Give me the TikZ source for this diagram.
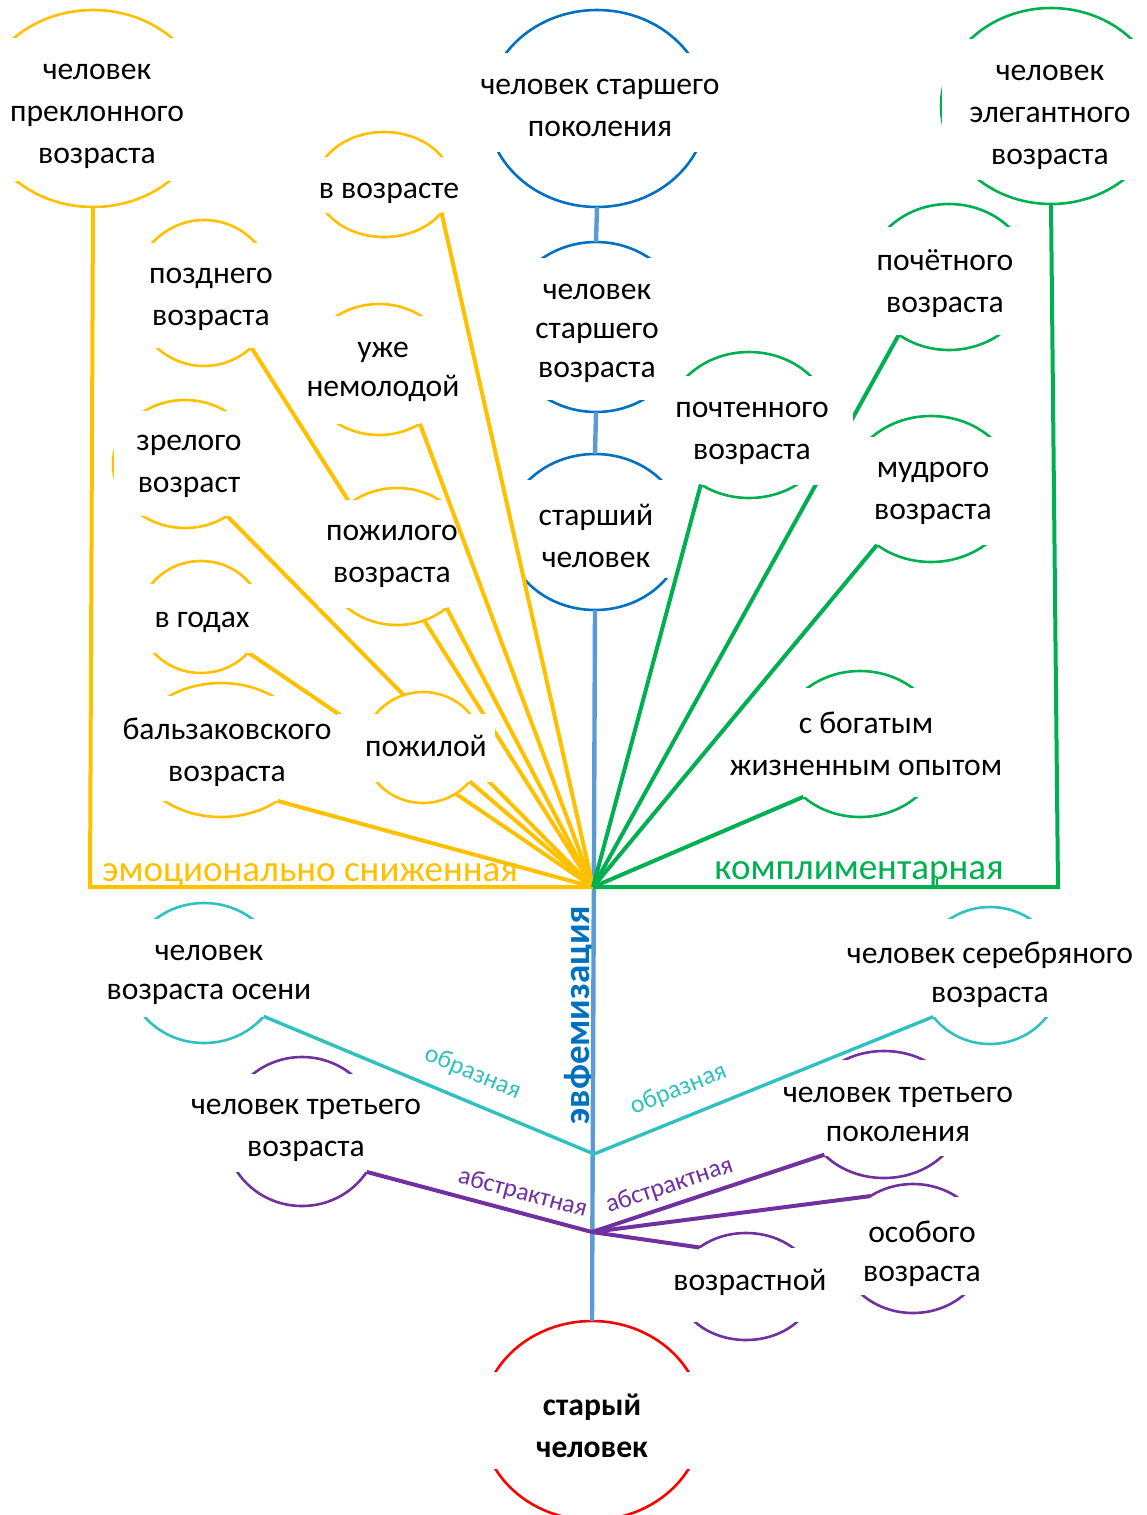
\documentclass[tikz,border=0pt]{standalone}
\usepackage{fontspec}
\setmainfont{Carlito}
\usetikzlibrary{calc,shapes.geometric}
\pgfdeclarelayer{back}
\pgfdeclarelayer{front}
\pgfsetlayers{back,main,front}

\definecolor{cYel}{RGB}{255,192,0}
\definecolor{cBlue}{RGB}{0,112,192}
\definecolor{cStem}{RGB}{91,155,213}
\definecolor{cGreen}{RGB}{0,176,80}
\definecolor{cCyan}{RGB}{48,192,192}
\definecolor{cPurple}{RGB}{112,48,160}
\definecolor{cRed}{RGB}{255,0,0}

\tikzset{
  oval/.style={ellipse, draw=#1, fill=white, line width=1.3pt, inner sep=0pt, outer sep=0pt},
  txt/.style={font=\fontsize{15.8}{21}\selectfont, align=center, inner sep=0pt,
              execute at begin node=\strut, execute at end node=\strut, yshift=-3.5pt},
  txt1/.style={txt, yshift=2.5pt},
  txttight/.style={txt, font=\fontsize{15.8}{19.5}\selectfont},
  link/.style={line width=2pt},
  stem/.style={line width=2.2pt, cStem},
  thinlink/.style={line width=1.7pt},
  lbl/.style={font=\fontsize{12.8}{15}\selectfont, inner sep=0pt, sloped},
  cat/.style={font=\fontsize{18.5}{22}\selectfont, anchor=base, inner sep=0pt},
}

% name, colour, centre, rx, ry, upper band edge, lower band edge, band left, band right
\newcommand\bub[9]{%
  \node[oval=#2, minimum width=#4pt, minimum height=#5pt] (#1) at (#3) {};
  \fill[white] ($(#1.center)+(-#8,-#6)$) rectangle ($(#1.center)+(#9,#7)$);
}

\begin{document}
\begin{tikzpicture}[x=0.5pt, y=-0.5pt]
\useasboundingbox (0,0) rectangle (1146,1515);

% ---------- branch points ----------
\coordinate (hub) at (593,887);
\coordinate (ycorner) at (90,887);
\coordinate (gcorner) at (1058,887);
\coordinate (cv) at (594,1154);
\coordinate (pv) at (592,1232);
\coordinate (gtick) at (937,887);

% ---------- yellow group ----------
\bub{prek}{cYel}{93,108.5}{113}{98.5}{71}{72}{116}{116}
\node[txt] (prek-t) at (97,113) {человек\\преклонного\\возраста};
\bub{vvoz}{cYel}{384,184.5}{68}{52.5}{28}{28}{71}{71}
\node[txt1] (vvoz-t) at (389,188) {в возрасте};
\bub{pozd}{cYel}{204,293}{71}{73}{50}{55}{74}{74}
\node[txt] (pozd-t) at (211,296) {позднего\\возраста};
\bub{uzhe}{cYel}{379,369.5}{73}{65.5}{54}{54.5}{76}{76}
\node[txttight] (uzhe-t) at (383,368.5) {уже\\немолодой};
\bub{zrel}{cYel}{185,464}{72}{64}{53}{52}{71}{75}
\node[txt] (zrel-t) at (189,463.5) {зрелого\\возраст};
\bub{pozhg}{cYel}{397,556.5}{75}{68.5}{56.5}{51.5}{78}{78}
\node[txt] (pozhg-t) at (392,553) {пожилого\\возраста};
\bub{vgod}{cYel}{201,617}{61}{56}{33}{36}{64}{64}
\node[txt1] (vgod-t) at (202,617) {в годах};
\bub{balz}{cYel}{221,750}{87}{67}{54}{51}{90}{89}
\node[txt] (balz-t) at (227,749) {бальзаковского\\возраста};
\bub{pozhl}{cYel}{423,747.5}{59}{55.5}{33.5}{34.5}{86}{72}
\node[txt1] (pozhl-t) at (426,746) {пожилой};

% ---------- blue chain ----------
\bub{spok}{cBlue}{597,108.5}{110}{98.5}{55.5}{43.5}{113}{113}
\node[txt] (spok-t) at (600,107.5) {человек старшего\\поколения};
\bub{svoz}{cBlue}{596,327}{91}{85}{69}{73}{94}{94}
\node[txttight] (svoz-t) at (597,330) {человек\\старшего\\возраста};
\bub{schel}{cBlue}{595,532}{88.6}{78}{52}{46}{91}{91}
\node[txt] (schel-t) at (596,535) {старший\\человек};

% ---------- green group ----------
\bub{eleg}{cGreen}{1051,106}{110}{98}{67}{74}{109}{113}
\node[txt] (eleg-t) at (1050,114) {человек\\элегантного\\возраста};
\bub{pochyo}{cGreen}{949,277}{82}{73}{50}{58}{85}{85}
\node[txt] (pochyo-t) at (945,280) {почётного\\возраста};
\bub{pocht}{cGreen}{749,425}{83}{73}{49}{60}{86}{104}
\node[txt] (pocht-t) at (752,430) {почтенного\\возраста};
\bub{mudr}{cGreen}{931,489}{84}{73}{52}{56}{87}{87}
\node[txt] (mudr-t) at (933,490) {мудрого\\возраста};
\bub{bog}{cGreen}{860,744}{82}{73}{56}{53}{85}{85}
\node[txt] (bog-t) at (866,743) {с богатым\\жизненным опытом};

% ---------- figurative pair ----------
\bub{osen}{cCyan}{204,973}{76}{70}{54}{44}{79}{79}
\node[txttight] (osen-t) at (209,971.5) {человек\\возраста осени};
\bub{serb}{cCyan}{990,975.5}{71}{68.5}{56.5}{41.5}{74}{74}
\node[txttight] (serb-t) at (990,971.5) {человек серебряного\\возраста};

% ---------- abstract group ----------
\bub{tvoz}{cPurple}{302,1131.5}{77}{74.5}{57.5}{40.5}{80}{80}
\node[txt] (tvoz-t) at (306,1127.5) {человек третьего\\возраста};
\bub{tpok}{cPurple}{884,1114.5}{77}{63.5}{54.5}{41}{80}{80}
\node[txttight] (tpok-t) at (898,1113) {человек третьего\\поколения};
\bub{osob}{cPurple}{913,1248.5}{73}{64.5}{52}{46.5}{76}{76}
\node[txttight] (osob-t) at (922,1250) {особого\\возраста};
\bub{vozr}{cPurple}{746,1286.5}{68}{53.5}{38.5}{35.5}{71}{71}
\node[txt1] (vozr-t) at (750,1280) {возрастной};

% ---------- root ----------
\bub{star}{cRed}{592,1420.5}{110.5}{99.5}{48.5}{48.5}{113}{113}
\node[txt, font=\bfseries\fontsize{15.8}{21}\selectfont] (star-t) at (592,1425) {старый\\человек};

% ---------- category captions ----------
\node[cat, text=cYel] (emo) at (310,881) {эмоционально сниженная};
\node[cat, text=cGreen] (kompl) at (859,879) {комплиментарная};
\node[cat, font=\bfseries\fontsize{18.5}{22}\selectfont, text=cBlue, rotate=90] (evf) at (589,1015) {эвфемизация};

% ---------- links hidden behind other ovals ----------
\begin{pgfonlayer}{back}
  \draw[link, cYel] (pozd.-49.7) -- (hub);
  \draw[link, cYel] (zrel.-51.1) -- (hub);
  \draw[link, cYel] (vgod.-37.6) -- (hub);
  \draw[link, cGreen] (pochyo.229.4) -- (hub);
\end{pgfonlayer}

% ---------- remaining links ----------
\begin{pgfonlayer}{front}
  \draw[stem] (spok.south) -- (svoz.north);
  \draw[stem] (svoz.south) -- (schel.north);
  \draw[stem] (schel.south) -- (star.north);

  \draw[link, cYel] (prek.south) -- (ycorner) -- (hub);
  \draw[link, cYel] (vvoz.-26) -- (hub);
  \draw[link, cYel] (uzhe.-53.4) -- (hub);
  \draw[link, cYel] (pozhg.-46.1) -- (hub);
  \draw[link, cYel] (balz.-42.1) -- (hub);
  \draw[link, cYel] (pozhl.-36.8) -- (hub);

  \draw[link, cGreen] (eleg.south) -- (gcorner) -- (hub);
  \draw[line width=1.3pt, cGreen] (gtick) -- ++(0,-8);
  \draw[link, cGreen] (pocht.231.7) -- (hub);
  \draw[link, cGreen] (mudr.226.1) -- (hub);
  \draw[link, cGreen] (bog.223.2) -- (hub);

  \draw[thinlink, cCyan] (osen.-36.7) -- node[lbl, text=cCyan, above=7.7pt, pos=0.60] (obr1) {образная} (cv);
  \draw[thinlink, cCyan] (serb.216.3) -- node[lbl, text=cCyan, above=7.7pt, pos=0.72] (obr2) {образная} (cv);

  \draw[link, cPurple] (tvoz.-32.1) -- node[lbl, text=cPurple, above=3.3pt, pos=0.67] (abs1) {абстрактная} (pv);
  \draw[link, cPurple] (tpok.214.9) -- node[lbl, text=cPurple, above=3.3pt, pos=0.64] (abs2) {абстрактная} (pv);
  \draw[link, cPurple] (pv) -- (osob.129.7);
  \draw[link, cPurple] (pv) -- (vozr.140.8);
\end{pgfonlayer}
\end{tikzpicture}
\end{document}
